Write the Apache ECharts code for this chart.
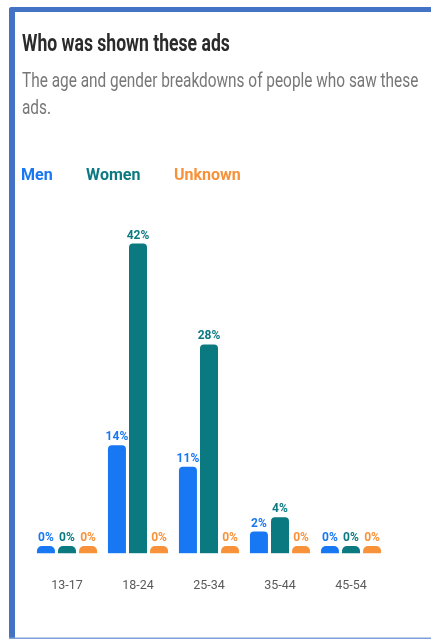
<!DOCTYPE html>
<html><head><meta charset="utf-8">
<script src="https://cdn.jsdelivr.net/npm/echarts@6/dist/echarts.min.js"></script>
<style>html,body{margin:0;padding:0;background:#fff}#c{width:431px;height:639px}</style>
</head><body><div id="c"></div>
<script>
const categories = ['13-17', '18-24', '25-34', '35-44', '45-54'];
const men = [0, 14, 11, 2, 0];
const women = [0, 42, 28, 4, 0];
const unknown = [0, 0, 0, 0, 0];
const seriesNames = ['Men', 'Women', 'Unknown'];
const colors = ['#1877F2', '#0B7A80', '#F7923A'];
const FLOOR = 1; // small stub drawn under every bar

const FONT = 'Roboto, "Noto Sans", sans-serif';
const chart = echarts.init(document.getElementById('c'), null, {renderer: 'canvas'});
const values = [men, women, unknown];
const stacks = ['m', 'w', 'u'];
const series = [];
values.forEach((vals, i) => {
  series.push({
    name: seriesNames[i] + ' floor', type: 'bar', stack: stacks[i], silent: true,
    barWidth: 18, barGap: '17%',
    data: vals.map(v => ({value: FLOOR, itemStyle: {borderRadius: v === 0 ? [5, 5, 0, 0] : 0}})),
    itemStyle: {color: colors[i]}, label: {show: false}
  });
});
values.forEach((vals, i) => {
  series.push({
    name: seriesNames[i], type: 'bar', stack: stacks[i],
    barWidth: 18, barGap: '17%',
    data: vals,
    itemStyle: {color: colors[i], borderRadius: [4, 4, 0, 0]},
    label: {
      show: true, position: 'top', distance: 2,
      formatter: p => p.value + '%',
      color: colors[i], fontFamily: FONT, fontWeight: 'bold', fontSize: 12
    }
  });
});

chart.setOption({
  animation: false,
  graphic: [
    {type: 'rect', shape: {x: 9, y: 7, width: 430, height: 5, r: [3, 0, 0, 0]}, style: {fill: '#4472C4'}},
    {type: 'rect', shape: {x: 9, y: 7, width: 6, height: 632, r: [3, 0, 0, 0]}, style: {fill: '#4472C4'}},
    {type: 'rect', shape: {x: 9, y: 637.5, width: 430, height: 1.5}, style: {fill: '#7FA0DC'}},
    {type: 'text', x: 22, y: 32.7, scaleY: 1.33,
     style: {text: 'Who was shown these ads', font: 'bold 17.6px ' + FONT, fill: '#2b2b2b', verticalAlign: 'top'}},
    {type: 'text', x: 22, y: 68.6, scaleY: 1.36,
     style: {text: 'The age and gender breakdowns of people who saw these\nads.', font: '15.4px ' + FONT, lineHeight: 19.6, fill: '#777777', verticalAlign: 'top'}}
  ],
  legend: {
    left: 11, top: 163, itemWidth: 0, itemHeight: 16, itemGap: 28.5, icon: 'rect',
    data: seriesNames.map((n, i) => ({name: n, textStyle: {color: colors[i]}})),
    textStyle: {fontFamily: FONT, fontWeight: 'bold', fontSize: 16}
  },
  grid: {left: 31.5, right: 44.5, top: 193.2, bottom: 85.8},
  xAxis: {
    type: 'category', data: categories,
    axisLine: {show: false}, axisTick: {show: false},
    axisLabel: {margin: 26, color: '#5a5a5a', fontFamily: FONT, fontSize: 12.5}
  },
  yAxis: {type: 'value', min: 0, max: 50, show: false, splitLine: {show: false}},
  series: series
});
</script></body></html>
